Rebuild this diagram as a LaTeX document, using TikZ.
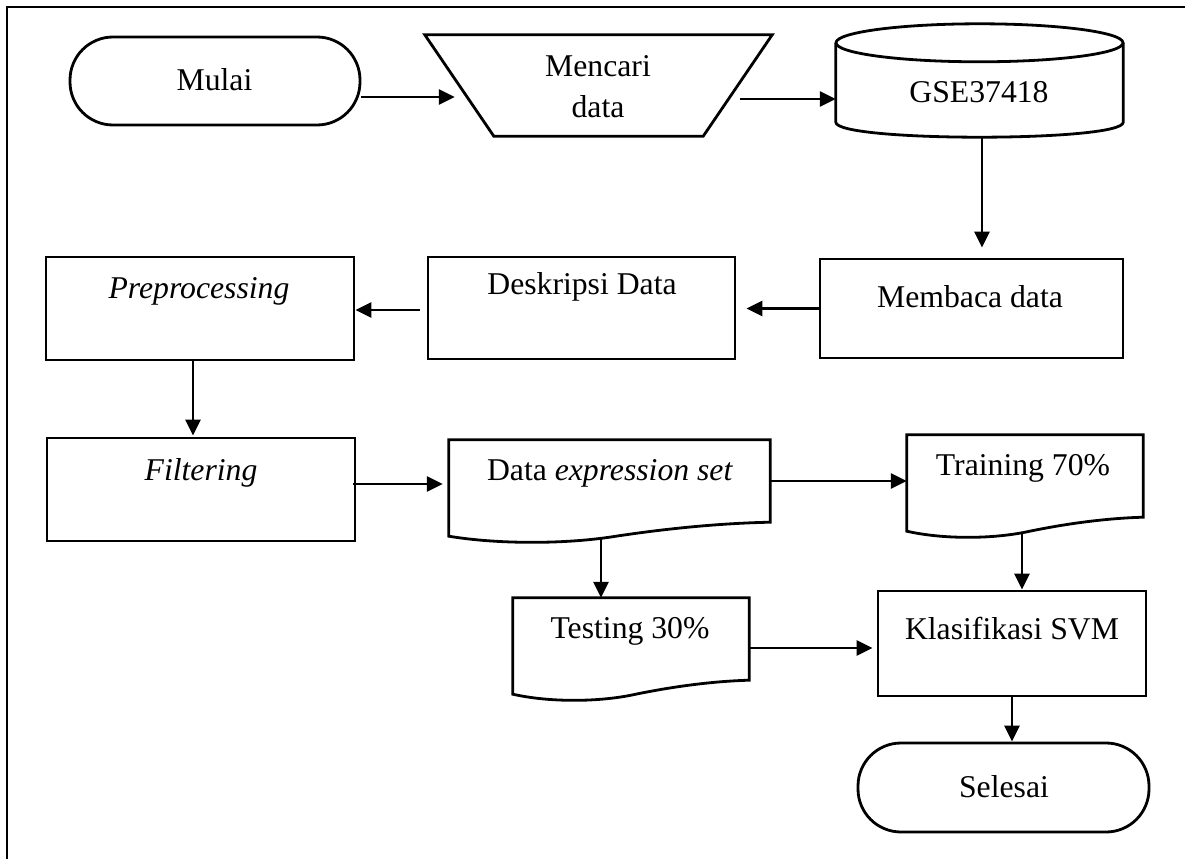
\documentclass[tikz,border=0pt]{standalone}
\usepackage{fontspec}
\setmainfont{Liberation Serif}
\usetikzlibrary{arrows.meta,calc}

% document symbol: straight top and sides, wavy bottom edge
\newcommand\docshape[1]{%
  \draw[shapeline] (#1.south east) -- (#1.north east) -- (#1.north west)
    -- ($(#1.south west)+(0,14)$)
    .. controls ($(#1.south west)!0.15!(#1.south east)+(0,22)$)
           and ($(#1.south west)!0.35!(#1.south east)+(0,22)$)
    .. ($(#1.south west)!0.5!(#1.south east)+(0,15)$)
    .. controls ($(#1.south west)!0.68!(#1.south east)+(0,6)$)
           and ($(#1.south west)!0.85!(#1.south east)+(0,1)$)
    .. (#1.south east) -- cycle;}

\begin{document}
\begin{tikzpicture}[x=1pt,y=-1pt,
  shapeline/.style={line width=2.8pt},
  box/.style={draw, rectangle, inner sep=0pt, shapeline},
  ghost/.style={rectangle, inner sep=0pt},
  term/.style={draw, rectangle, rounded corners=43pt, inner sep=0pt, shapeline},
  lbl/.style={anchor=base, inner sep=0pt, font=\fontsize{31.7}{38}\selectfont},
  arr/.style={-{Triangle[length=16pt,width=15pt]}, line width=2.6pt},
]
\useasboundingbox (0,0) rectangle (1185,859);

% outer frame (left and top edges)
\draw[line width=2.8pt] (7,859) -- (7,7) -- (1185,7);

% terminals
\node[term, minimum width=290pt, minimum height=88pt] (mulai) at (215,81) {};
\node[term, minimum width=291pt, minimum height=89pt] (selesai) at (1003.5,787.5) {};

% manual input (trapezoid)
\node[ghost, minimum width=347pt, minimum height=101pt] (find) at (598.5,85.5) {};
\draw[shapeline] (find.north west) -- (find.north east)
  -- ($(find.south east)+(-69,0)$) -- ($(find.south west)+(69,0)$) -- cycle;

% data store (cylinder)
\node[ghost, minimum width=287pt, minimum height=79pt] (gse) at (979.5,82.5) {};
\draw[shapeline] (gse.north) ellipse [x radius=143.5, y radius=19];
\draw[shapeline] (gse.north west) -- (gse.south west)
  .. controls ($(gse.south west)+(0,20)$) and ($(gse.south east)+(0,20)$) .. (gse.south east)
  -- (gse.north east);

% process boxes
\node[box, minimum width=303pt, minimum height=99pt]  (membaca)   at (971.5,308.5) {};
\node[box, minimum width=307pt, minimum height=102pt] (deskripsi) at (581.5,308) {};
\node[box, minimum width=308pt, minimum height=103pt] (prep)      at (200,308.5) {};
\node[box, minimum width=308pt, minimum height=103pt] (filter)    at (201,489.5) {};
\node[box, minimum width=268pt, minimum height=105pt] (klas)      at (1012,643.5) {};

% documents
\node[ghost, minimum width=321pt, minimum height=82pt] (dexp)  at (609.5,481) {};
\node[ghost, minimum width=236pt, minimum height=82pt] (train) at (1025,476) {};
\node[ghost, minimum width=236pt, minimum height=82pt] (test)  at (631,639) {};
\docshape{dexp}
\docshape{train}
\docshape{test}

% labels
\node[lbl] (tmulai)   at (214.5,90) {Mulai};
\node[lbl] (tfind1)   at (598,77)   {Mencari};
\node[lbl] (tfind2)   at (598,117)  {data};
\node[lbl] (tgse)     at (979,102)  {GSE37418};
\node[lbl] (tmembaca) at (970,307)  {Membaca data};
\node[lbl] (tdesk)    at (582,294)  {Deskripsi Data};
\node[lbl] (tprep)    at (199,298)  {\itshape Preprocessing};
\node[lbl] (tfilter)  at (201,480)  {\itshape Filtering};
\node[lbl] (tdexp)    at (610,480)  {Data \textit{expression set}};
\node[lbl] (ttrain)   at (1023,475) {Training 70\%};
\node[lbl] (ttest)    at (630,638)  {Testing 30\%};
\node[lbl] (tklas)    at (1012,639) {Klasifikasi SVM};
\node[lbl] (tselesai) at (1004,797) {Selesai};

% connectors
\draw[arr] ([yshift=-16pt]mulai.east) -- ([xshift=30pt,yshift=-11.5pt]find.west);
\draw[arr] ([xshift=-32pt,yshift=-13.5pt]find.east) -- ([yshift=-16.5pt]gse.west);
\draw[arr] ([xshift=2.5pt,yshift=-15pt]gse.south) -- ([xshift=10.5pt,yshift=10pt]membaca.north);
\draw[arr] (membaca.west) -- ([xshift=10pt,yshift=-0.5pt]deskripsi.east);
\draw[arr] ([xshift=-7pt,yshift=-2pt]deskripsi.west) -- ([yshift=-1.5pt]prep.east);
\draw[arr] ([xshift=-7pt]prep.south) -- ([xshift=-8pt,yshift=1pt]filter.north);
\draw[arr] ([xshift=-3pt,yshift=5.5pt]filter.east) -- ([xshift=-6pt,yshift=-3pt]dexp.west);
\draw[arr] (dexp.east) -- ([yshift=-5pt]train.west);
\draw[arr] ([xshift=-8.5pt,yshift=-15pt]dexp.south) -- ([xshift=-30pt]test.north);
\draw[arr] ([xshift=-3pt,yshift=-15pt]train.south) -- ([xshift=10pt]klas.north);
\draw[arr] ([yshift=-9pt]test.east) -- ([xshift=-4pt,yshift=-4.5pt]klas.west);
\draw[arr] (klas.south) -- ([xshift=8.5pt]selesai.north);
\end{tikzpicture}
\end{document}
